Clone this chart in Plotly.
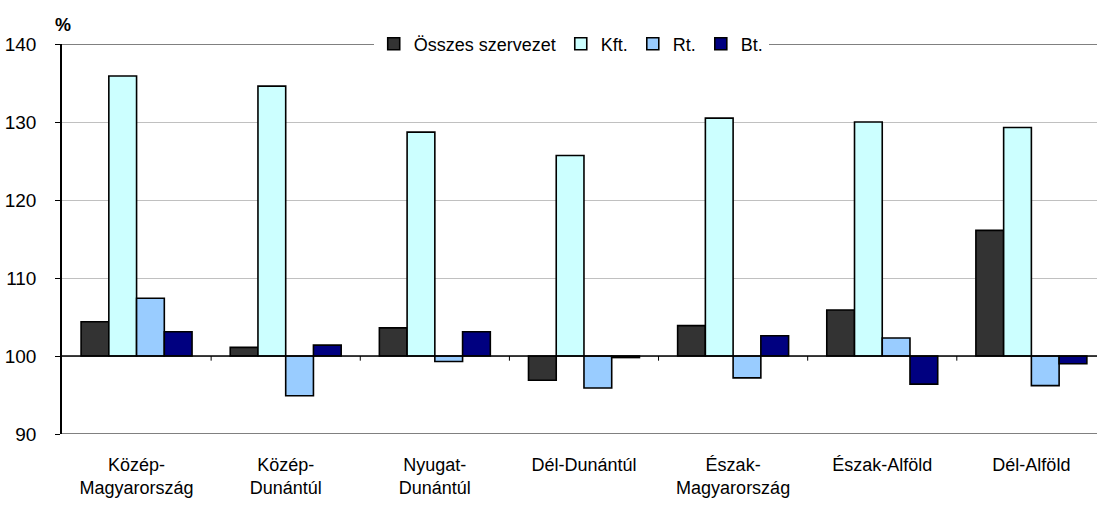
import plotly.graph_objects as go

categories = ["Közép-<br>Magyarország", "Közép-<br>Dunántúl", "Nyugat-<br>Dunántúl",
              "Dél-Dunántúl", "Észak-<br>Magyarország", "Észak-Alföld", "Dél-Alföld"]
osszes = [104.4, 101.1, 103.6, 96.9, 103.9, 105.9, 116.1]
kft = [135.9, 134.6, 128.7, 125.7, 130.5, 130.0, 129.3]
rt = [107.4, 94.9, 99.3, 95.9, 97.2, 102.3, 96.2]
bt = [103.1, 101.4, 103.1, 99.8, 102.6, 96.4, 99.0]
series_names = ["Összes szervezet", "Kft.", "Rt.", "Bt."]
series_colors = ["#333333", "#CCFFFF", "#99CCFF", "#000080"]
baseline = 100
y_ticks = [90, 100, 110, 120, 130, 140]

FONT = "Liberation Sans, Arial, sans-serif"
fig = go.Figure()
for name, vals, col in zip(series_names, [osszes, kft, rt, bt], series_colors):
    fig.add_trace(go.Bar(
        name=name, x=list(range(len(categories))),
        y=[v - baseline for v in vals], base=baseline,
        marker=dict(color=col, line=dict(color="black", width=1.6)),
    ))

shapes = []
# plot-area border lines (top & bottom)
for yv, c in [(140, "#808080"), (90, "#808080")]:
    shapes.append(dict(type="line", xref="paper", yref="y", x0=0, x1=1, y0=yv, y1=yv,
                       line=dict(color=c, width=2), layer="below"))
# category axis crossing at 100
shapes.append(dict(type="line", xref="paper", yref="y", x0=0, x1=1, y0=baseline, y1=baseline,
                   line=dict(color="black", width=1.5), layer="above"))
for k in range(len(categories) - 1):
    shapes.append(dict(type="line", xref="x", yref="y", x0=k + 0.5, x1=k + 0.5,
                       y0=baseline, y1=baseline - 0.6, line=dict(color="black", width=1)))

fig.update_layout(
    width=1097, height=505,
    margin=dict(l=61.5, r=0, t=44.3, b=70.7, autoexpand=False),
    paper_bgcolor="white", plot_bgcolor="white",
    barmode="group", bargap=0.256, bargroupgap=0,
    font=dict(family=FONT, size=18, color="black"),
    showlegend=True,
    legend=dict(orientation="h", x=0.492, xanchor="center", y=1.0, yanchor="middle",
                bgcolor="white", font=dict(size=18, family=FONT),
                itemwidth=30, tracegroupgap=0),
    xaxis=dict(tickmode="array", tickvals=list(range(len(categories))), ticktext=categories,
               range=[-0.5, 6.44], showgrid=False, showline=False, ticks="",
               tickfont=dict(size=18, family=FONT), ticklabelstandoff=18, fixedrange=True),
    yaxis=dict(range=[90, 140], tickvals=y_ticks, showgrid=True, gridcolor="#c0c0c0",
               gridwidth=1, showline=True, linecolor="black", linewidth=1.5,
               ticks="outside", ticklen=5, tickcolor="black", zeroline=False,
               ticklabelstandoff=15, tickfont=dict(size=19, family=FONT)),
    shapes=shapes,
    annotations=[dict(text="<b>%</b>", xref="paper", yref="paper", x=0, y=1.0,
                      xanchor="left", yanchor="bottom", yshift=7, xshift=-9, showarrow=False,
                      font=dict(size=18, family=FONT))],
)
fig.write_html("out.html", config={"displayModeBar": False},
               post_script="document.body.style.margin='0';document.body.style.overflow='hidden';")
